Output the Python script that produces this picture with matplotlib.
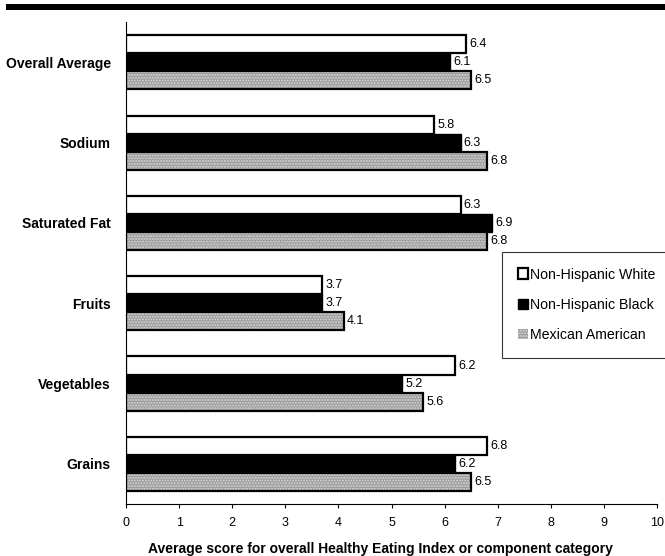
import numpy as np
import matplotlib
matplotlib.use("Agg")
import matplotlib.pyplot as plt
from matplotlib.patches import Rectangle

plt.rcParams['font.family'] = ['Liberation Sans', 'DejaVu Sans']

categories = ["Overall Average", "Sodium", "Saturated Fat", "Fruits", "Vegetables", "Grains"]
white_vals = [6.4, 5.8, 6.3, 3.7, 6.2, 6.8]
black_vals = [6.1, 6.3, 6.9, 3.7, 5.2, 6.2]
mexican_vals = [6.5, 6.8, 6.8, 4.1, 5.6, 6.5]
series_names = ["Non-Hispanic White", "Non-Hispanic Black", "Mexican American"]

fig = plt.figure(figsize=(6.65, 5.56), dpi=100)
ax = fig.add_axes([0.1895, 0.0935, 0.7985, 0.8665])

# heavy rule across the top
fig.patches.append(Rectangle((6 / 665, 1 - 10 / 556), 1 - 6 / 665, 6 / 556,
                             transform=fig.transFigure, facecolor='black',
                             edgecolor='none'))

y = np.arange(len(categories))
h = 0.225
off = 0.225

b1 = ax.barh(y - off, white_vals, height=h, facecolor='white', edgecolor='black', linewidth=1.6)
b2 = ax.barh(y, black_vals, height=h, facecolor='black', edgecolor='black', linewidth=1.0)
b3 = ax.barh(y + off, mexican_vals, height=h, facecolor='#9c9c9c', edgecolor='#d8d8d8',
             hatch='......', linewidth=0)
ax.barh(y + off, mexican_vals, height=h, fill=False, edgecolor='black', linewidth=1.6)

for bars, vals in [(b1, white_vals), (b2, black_vals), (b3, mexican_vals)]:
    for bar, v in zip(bars, vals):
        ax.text(v + 0.06, bar.get_y() + bar.get_height() / 2, f"{v:.1f}",
                va='center', ha='left', fontsize=9)

ax.set_xlim(0, 10)
ax.set_ylim(len(categories) - 0.5, -0.5)
ax.set_xticks(range(0, 11))
ax.tick_params(axis='x', direction='out', length=3, labelsize=9, pad=6)
ax.set_yticks(y)
ax.set_yticklabels(categories, fontweight='bold', fontsize=10)
ax.tick_params(axis='y', length=0, pad=11)
ax.spines['top'].set_visible(False)
ax.spines['right'].set_visible(False)
ax.set_xlabel("Average score for overall Healthy Eating Index or component category",
              fontweight='bold', fontsize=10)
ax.xaxis.set_label_coords(0.48, -0.078)

leg = ax.legend([b1, b2, b3], series_names, loc='upper left',
                bbox_to_anchor=(502 / 665, 1 - 252 / 556), bbox_transform=fig.transFigure,
                fontsize=10.2, frameon=True, fancybox=False, edgecolor='black',
                handlelength=0.75, handleheight=0.75, handletextpad=0.15,
                labelspacing=1.15, borderpad=1.1, borderaxespad=0)
leg.get_frame().set_linewidth(0.8)

fig.savefig("out.png", dpi=100)
